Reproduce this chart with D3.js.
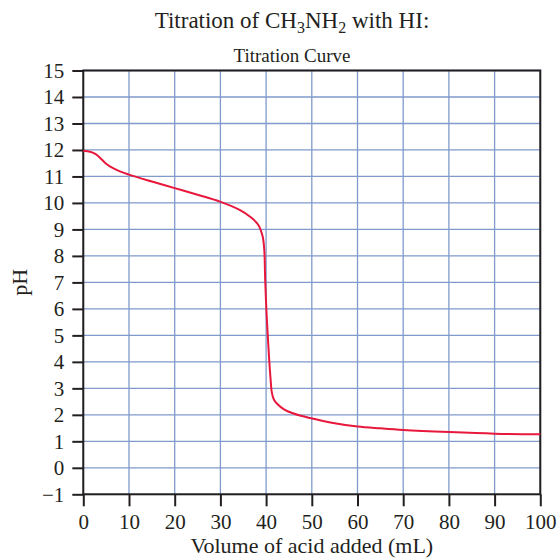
<!DOCTYPE html>
<html>
<head>
<meta charset="utf-8">
<script src="https://cdn.jsdelivr.net/npm/d3@7"></script>
<style>
  body { margin: 0; background: #fff; }
  text { font-family: "Liberation Serif", "Times New Roman", serif; fill: #231f20; }
</style>
</head>
<body>
<svg id="chart" width="557" height="558"></svg>
<script>
// volume of HI added (mL) and resulting pH
var volume = [0, 1.5, 2.8, 3.8, 5, 6.5, 8, 10, 15, 20, 25, 29.9, 34.3, 36.5, 38.3, 39.25, 39.6, 39.8,
  40.1, 40.5, 41.0, 41.25, 41.7, 42.4, 44, 46, 49.6, 55, 60, 65, 70, 80, 90, 100];
var pH = [11.97, 11.93, 11.83, 11.68, 11.48, 11.31, 11.19, 11.07, 10.81, 10.56, 10.31, 10.05, 9.73, 9.48, 9.17, 8.73, 8.23, 7.1,
  5.84, 4.58, 3.3, 2.85, 2.58, 2.42, 2.2, 2.05, 1.88, 1.68, 1.56, 1.49, 1.43, 1.35, 1.29, 1.27];

var xTicks = d3.range(0, 101, 10);
var yTicks = d3.range(-1, 16, 1);

var svg = d3.select("#chart"),
  margin = { top: 70.5, left: 83.3, bottom: 63.7, right: 16.7 },
  width = +svg.attr("width"),
  height = +svg.attr("height");

var x = d3.scaleLinear().domain([0, 100]).range([margin.left, width - margin.right]);
var y = d3.scaleLinear().domain([-1, 15]).range([height - margin.bottom, margin.top]);

var gridColor = "#7f9acb";

// grid
svg.append("g")
  .selectAll("line")
  .data(xTicks)
  .join("line")
  .attr("x1", (d) => x(d))
  .attr("x2", (d) => x(d))
  .attr("y1", y(-1))
  .attr("y2", y(15))
  .attr("stroke", gridColor)
  .attr("stroke-width", 1.3);

svg.append("g")
  .selectAll("line")
  .data(yTicks)
  .join("line")
  .attr("x1", x(0))
  .attr("x2", x(100))
  .attr("y1", (d) => y(d))
  .attr("y2", (d) => y(d))
  .attr("stroke", gridColor)
  .attr("stroke-width", 1.3);

// frame
svg.append("rect")
  .attr("x", x(0))
  .attr("y", y(15))
  .attr("width", x(100) - x(0))
  .attr("height", y(-1) - y(15))
  .attr("fill", "none")
  .attr("stroke", "#231f20")
  .attr("stroke-width", 2);

// axes
var yAxis = svg.append("g")
  .attr("transform", `translate(${x(0)},0)`)
  .call(d3.axisLeft(y).tickValues(yTicks).tickSize(11).tickPadding(8)
    .tickFormat((d) => (d < 0 ? "\u2212" + Math.abs(d) : d)));

var xAxis = svg.append("g")
  .attr("transform", `translate(0,${y(-1)})`)
  .call(d3.axisBottom(x).tickValues(xTicks).tickSize(12).tickPadding(8));

[xAxis, yAxis].forEach(function (g) {
  g.select(".domain").remove();
  g.selectAll(".tick line").attr("stroke", "#231f20").attr("stroke-width", 2);
  g.selectAll(".tick text")
    .attr("font-family", "Liberation Serif, serif")
    .attr("font-size", 21)
    .attr("fill", "#231f20");
});

// curve
var line = d3.line()
  .x((d, i) => x(volume[i]))
  .y((d) => y(d))
  .curve(d3.curveCatmullRom.alpha(0.5));

svg.append("path")
  .datum(pH)
  .attr("d", line)
  .attr("fill", "none")
  .attr("stroke", "#e8173c")
  .attr("stroke-width", 2);

// titles
var title = svg.append("text")
  .attr("x", 292)
  .attr("y", 28)
  .attr("text-anchor", "middle")
  .attr("font-size", 23);
title.append("tspan").text("Titration of CH");
title.append("tspan").attr("dy", 5).attr("font-size", 16).text("3");
title.append("tspan").attr("dy", -5).text("NH");
title.append("tspan").attr("dy", 5).attr("font-size", 16).text("2");
title.append("tspan").attr("dy", -5).text(" with HI:");

svg.append("text")
  .attr("x", 292)
  .attr("y", 62)
  .attr("text-anchor", "middle")
  .attr("font-size", 19)
  .text("Titration Curve");

svg.append("text")
  .attr("x", (x(0) + x(100)) / 2)
  .attr("y", 553)
  .attr("text-anchor", "middle")
  .attr("font-size", 22)
  .text("Volume of acid added (mL)");

svg.append("text")
  .attr("transform", `translate(27,${(y(-1) + y(15)) / 2}) rotate(-90)`)
  .attr("text-anchor", "middle")
  .attr("font-size", 22)
  .text("pH");
</script>
</body>
</html>
